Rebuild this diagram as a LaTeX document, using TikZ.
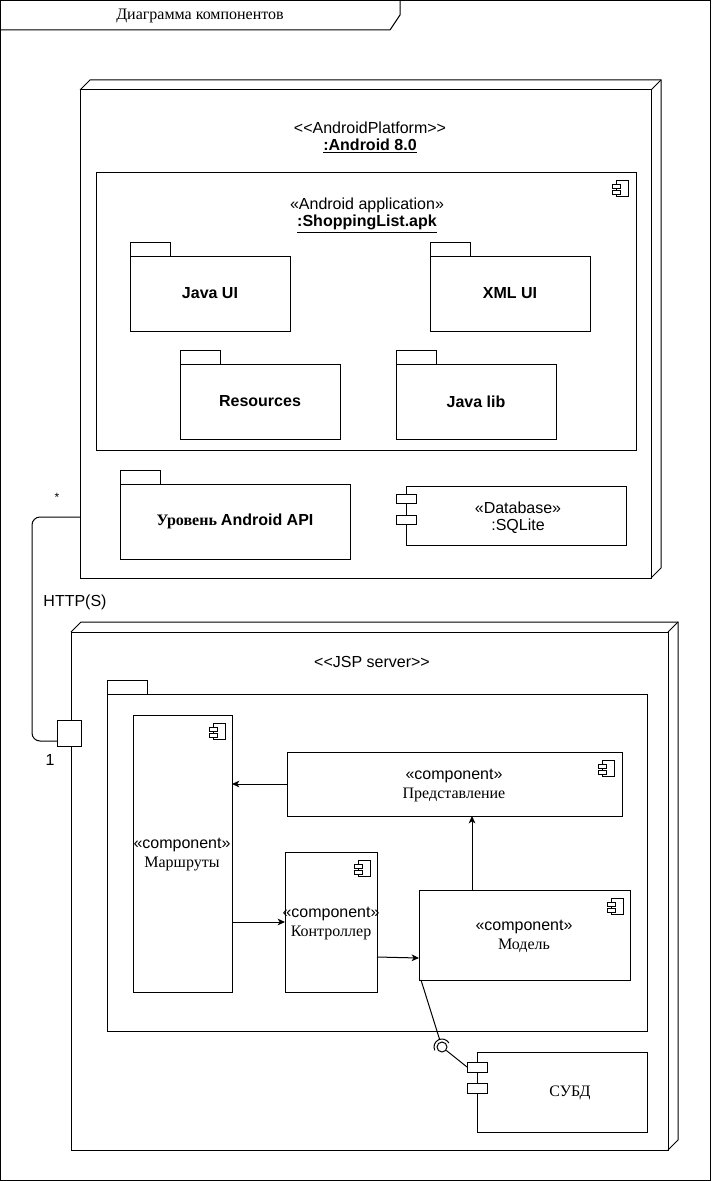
\documentclass[tikz,border=0pt]{standalone}
\usepackage{fontspec}
\setmainfont{Liberation Serif}
\setsansfont{Liberation Sans}
\usetikzlibrary{arrows.meta,calc}
\newcommand\bx[5]{\node[box, minimum width={#4*0.75pt}, minimum height={#5*0.75pt}] (#1) at (#2,#3) {};}
\newcommand\threed[4]{%
  \draw (#1,#2) -- (#1+10,#2-10) -- (#1+#3+10,#2-10) -- (#1+#3+10,#2+#4-10) -- (#1+#3,#2+#4);
  \draw (#1+#3,#2) -- (#1+#3+10,#2-10);}
\newcommand\tab[2]{\draw[fill=white] (#1,#2-14) rectangle (#1+40,#2);}
\newcommand\lt{<\kern0pt<}
\newcommand\gt{>\kern0pt>}
\begin{document}
\begin{tikzpicture}[x=0.75pt,y=-0.75pt, line width=0.75pt,
  box/.style={draw, fill=white, anchor=north west, inner sep=0pt, outer sep=0pt},
  sf/.style={font=\sffamily\fontsize{12}{14}\selectfont, inner sep=0pt},
  rm/.style={font=\rmfamily\fontsize{12}{14}\selectfont, inner sep=0pt},
  sfb/.style={font=\sffamily\bfseries\fontsize{12}{14}\selectfont, inner sep=0pt},
  arr/.style={-{Stealth[length=5.5pt,width=5pt,inset=1.5pt]}},
  porte/.style={draw, fill=white, anchor=north west, inner sep=0pt, outer sep=0pt},
  compicon/.pic={
    \draw[line width=0.6pt, fill=white] (-12,0) rectangle (0,16);
    \draw[line width=0.6pt, fill=white] (-16,4) rectangle (-8,8);
    \draw[line width=0.6pt, fill=white] (-16,10) rectangle (-8,14);
  }
]
\useasboundingbox (0,0) rectangle (711,1181);
% outer frame
\draw (0.5,0.5) rectangle (710,1180);
\draw (0.5,30) -- (390,30) -- (400,15) -- (400,0.5);
\node[rm] (title) at (200,16) {Диаграмма компонентов};

% Android node
\bx{android}{80}{90}{571}{488}
\threed{80}{90}{571}{488}
\node[sf] (andst) at (370,128) {\lt AndroidPlatform\gt};
\node[sfb] (andnm) at (370,146) {\underline{:Android 8.0}};

% Android application component
\bx{app}{96}{172}{540}{278}
\pic at (628,180) {compicon};
\node[sf] (appst) at (367,205) {«Android application»};
\node[sfb] (appnm) at (367,224) {\underline{:ShoppingList.apk}};

% packages
\tab{130}{256}\bx{javaui}{130}{256}{160}{75}
\node[sfb] at (javaui) {Java UI};
\tab{430}{256}\bx{xmlui}{430}{256}{160}{75}
\node[sfb] at (xmlui) {XML UI};
\tab{180}{364}\bx{res}{180}{364}{160}{75}
\node[sfb] at (res) {Resources};
\tab{396}{364}\bx{jlib}{396}{364}{160}{75}
\node[sfb] at (jlib) {Java lib};
\tab{120}{484}\bx{api}{120}{484}{230}{75}
\node[font=\bfseries\fontsize{12}{14}\selectfont, inner sep=0pt] at (api) {Уровень \sffamily Android API};

% Database
\bx{db}{406}{486}{220}{59}
\node[porte, minimum width={20*0.75pt}, minimum height={9*0.75pt}] (dbp1) at (396,494) {};
\node[porte, minimum width={20*0.75pt}, minimum height={9*0.75pt}] (dbp2) at (396,515) {};
\node[sf] at (518,508) {«Database»};
\node[sf] at (518,526) {:SQLite};

% HTTP link
\node[font=\sffamily\fontsize{9}{10}\selectfont, inner sep=0pt] (star) at (57,497) {*};
\node[sf] (http) at (75,602) {HTTP(S)};
\node[sf] (one) at (50,760) {1};
\coordinate (aleft) at (80,517);

% JSP server node
\bx{jsp}{71}{632}{597}{518}
\threed{71}{632}{597}{518}
\node[porte, minimum width={24*0.75pt}, minimum height={26*0.75pt}] (port) at (57,720) {};
\coordinate (pin) at (57,741);
\draw[rounded corners=6pt] (aleft) -- (32,517) -- (32,741) -- (pin);
\node[sf] (jspst) at (372,662) {\lt JSP server\gt};

% package in server
\tab{107}{694}\bx{pkg}{107}{694}{540}{337}

% components
\bx{mar}{133}{715}{99}{277}
\pic at (225,723) {compicon};
\node[sf] at (182,845) {«component»};
\node[rm] at (182,864) {Маршруты};

\bx{pres}{287}{752}{335}{64}
\pic at (614,760) {compicon};
\node[sf] at (454,776) {«component»};
\node[rm] at (454,795) {Представление};

\bx{ctrl}{285}{852}{92}{140}
\pic at (370,860) {compicon};
\node[sf] at (331,914) {«component»};
\node[rm] at (331,933) {Контроллер};

\bx{model}{419}{890}{211}{90}
\pic at (623,898) {compicon};
\node[sf] at (524,927) {«component»};
\node[rm] at (524,946) {Модель};

% СУБД
\bx{dbms}{477}{1052}{170}{80}
\node[porte, minimum width={20*0.75pt}, minimum height={10*0.75pt}] (sp1) at (467,1062) {};
\node[porte, minimum width={20*0.75pt}, minimum height={10*0.75pt}] (sp2) at (467,1083) {};
\node[rm] at (570,1093) {СУБД};

% arrows
\draw[arr] (pres.west) -- (pres.west -| mar.east);
\draw[arr] (mar.east |- ctrl.west) -- (ctrl.west);
\coordinate (c1) at ($(ctrl.north east)+(0,105)$);
\coordinate (m0) at ($(model.north west)+(0,68)$);
\draw[arr] (c1) -- (m0);
\coordinate (m1) at ($(model.north west)+(53,0)$);
\draw[arr] (m1) -- (m1 |- pres.south);

% lollipop
\node[draw, circle, minimum size={10*0.75pt}, inner sep=0pt] (ball) at (442,1047) {};
\coordinate (sockend) at (439.6,1039.4);
\coordinate (mbl) at ($(model.south west)+(2,0)$);
\draw (mbl) -- (sockend);
\draw (ball) -- (sp1.west);
\draw (442,1047) ++(-205:8) arc[start angle=-205, end angle=-30, radius=8];
\end{tikzpicture}
\end{document}
